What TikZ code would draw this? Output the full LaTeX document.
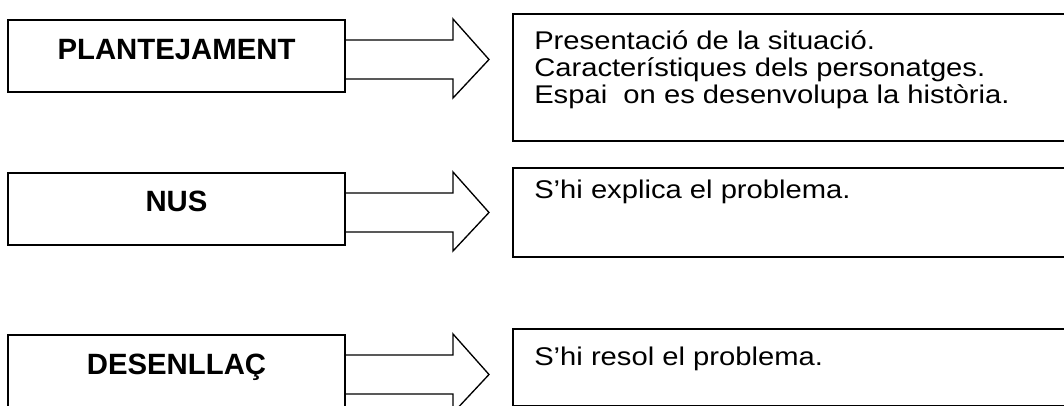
\documentclass[tikz,border=0pt]{standalone}
\usepackage{fontspec}
\setmainfont{Liberation Sans}
\newfontfamily\bodyfont[FakeStretch=1.14]{Liberation Sans}
\usetikzlibrary{calc}
\begin{document}
\begin{tikzpicture}[x=0.75pt,y=-0.75pt,
  stagebox/.style={draw,line width=1.5pt,inner sep=0pt,outer sep=0pt,anchor=north west,
    minimum width=252.75pt,minimum height=54pt},
  infobox/.style={draw,line width=1.25pt,inner sep=0pt,outer sep=0pt,anchor=north west,
    minimum width=425pt},
  stagetext/.style={inner sep=0pt,anchor=base,font=\fontsize{22}{26}\selectfont\bfseries},
  infotext/.style={inner sep=0pt,anchor=base west,font=\bodyfont\fontsize{19.2}{20.25}\selectfont},
  blockarrow/.style={draw,line width=1pt,line join=miter}
]
\useasboundingbox (0,0) rectangle (1064,406);
\clip (0,0) rectangle (1064,406);

% left boxes
\node[stagebox] (L1) at (8,20) {};
\node[stagebox] (L2) at (8,173) {};
\node[stagebox] (L3) at (8,335) {};

% right boxes
\node[infobox,minimum height=95.25pt] (R1) at (513,14) {};
\node[infobox,minimum height=66.75pt] (R2) at (513,168) {};
\node[infobox,minimum height=57.4pt] (R3) at (513,329) {};

% labels
\node[stagetext] (t1) at (176.5,60) {PLANTEJAMENT};
\node[stagetext] (t2) at (176.5,212) {NUS};
\node[stagetext] (t3) at (176.5,374) {DESENLLAÇ};

\node[infotext] (i1) at (534,50) {\vtop{\hbox{Presentació de la situació.}\hbox{Característiques dels personatges.}\hbox{Espai\ \ on es desenvolupa la història.}}};
\node[infotext] (i2) at (534,199) {S’hi explica el problema.};
\node[infotext] (i3) at (534,365) {S’hi resol el problema.};

% block arrows
\foreach \b in {L1,L2,L3}{
  \draw[blockarrow] ($(\b.north east)+(0,20)$) -- ++(108,0) -- ++(0,-21)
    -- ++(36,40.5) -- ++(-36,38.5) -- ++(0,-19) -- ++(-108,0);
}
\end{tikzpicture}
\end{document}
